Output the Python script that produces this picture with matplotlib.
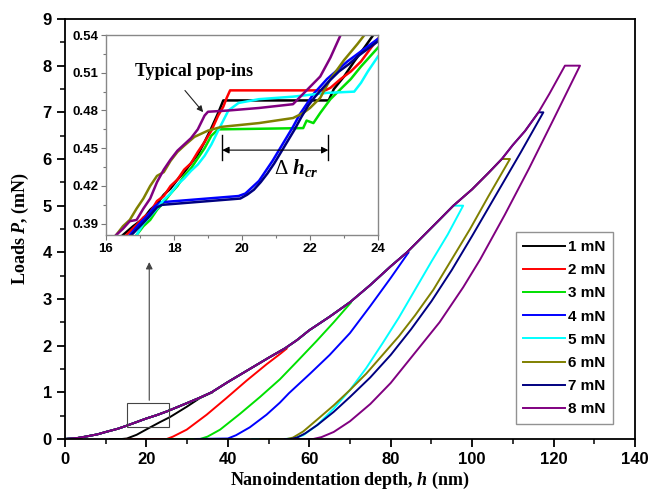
import numpy as np
import matplotlib
matplotlib.use('Agg')
from matplotlib import pyplot as plt
from matplotlib.patches import Rectangle
from matplotlib.ticker import MultipleLocator

plt.rcParams['font.family'] = 'Liberation Sans'
plt.rcParams['font.weight'] = 'bold'
plt.rcParams['mathtext.fontset'] = 'custom'
plt.rcParams['mathtext.it'] = 'Liberation Serif:italic:bold'
plt.rcParams['mathtext.rm'] = 'Liberation Serif:bold'
plt.rcParams['mathtext.sf'] = 'Liberation Serif:italic'

labels = ['1 mN', '2 mN', '3 mN', '4 mN', '5 mN', '6 mN', '7 mN', '8 mN']
colors = ['#000000', '#ff0000', '#00e000', '#0000ff', '#00ffff', '#808000', '#000080', '#800080']
peak_p = [1.0, 1.94, 2.93, 4.0, 5.0, 6.0, 7.0, 8.0]

# common loading branch
load_h = [0, 3, 5, 8, 10, 13, 15, 17.5, 20, 22.5, 25, 30, 33, 36, 40, 45, 50, 54, 57, 60,
          65, 70, 75, 80, 84, 88, 92, 95.4, 100, 104, 107.3, 110, 113, 116.3, 119, 122.8]
load_p = [0, 0.02, 0.05, 0.1, 0.15, 0.22, 0.28, 0.36, 0.44, 0.51, 0.59, 0.77, 0.88, 1.0, 1.22, 1.48, 1.74, 1.94, 2.12, 2.33,
          2.62, 2.93, 3.3, 3.7, 4.0, 4.35, 4.7, 5.0, 5.35, 5.7, 6.0, 6.3, 6.6, 7.0, 7.4, 8.0]

# hold + unloading branches
unload_h1 = [36.0, 36.2, 33.2, 29.9, 25.8, 23.3, 20.1, 17.6, 15.2, 14.0, 11.0]
unload_p1 = [1.0, 1.0, 0.88, 0.69, 0.47, 0.36, 0.21, 0.09, 0.01, 0.0, 0.0]
unload_h2 = [54.0, 54.5, 52.8, 49.5, 44.6, 39.7, 34.8, 29.9, 26.5, 25.0, 15.0]
unload_p2 = [1.94, 1.94, 1.82, 1.6, 1.25, 0.88, 0.52, 0.2, 0.05, 0.0, 0.0]
unload_h3 = [70.0, 70.3, 66.0, 61.8, 57.0, 52.8, 47.9, 43.0, 38.1, 35.0, 33.2, 25.0]
unload_p3 = [2.93, 2.93, 2.5, 2.1, 1.66, 1.28, 0.9, 0.54, 0.2, 0.05, 0.0, 0.0]
unload_h4 = [84.0, 84.4, 80.0, 75.0, 70.0, 65.0, 60.2, 55.0, 52.8, 49.5, 45.4, 42.0, 40.0, 32.0]
unload_p4 = [4.0, 4.0, 3.45, 2.85, 2.27, 1.8, 1.4, 0.98, 0.78, 0.52, 0.25, 0.08, 0.01, 0.0]
unload_h5 = [95.4, 97.8, 94.0, 90.0, 86.0, 82.0, 78.0, 74.0, 70.0, 66.0, 62.0, 58.5, 56.0, 54.0, 46.0]
unload_p5 = [5.0, 5.0, 4.38, 3.8, 3.2, 2.6, 2.05, 1.52, 1.05, 0.65, 0.3, 0.08, 0.01, 0.0, 0.0]
unload_h6 = [107.3, 109.3, 104.0, 99.5, 95.0, 90.5, 86.0, 82.0, 78.0, 74.0, 70.0, 66.0, 62.0, 58.5, 56.0, 54.5, 48.0]
unload_p6 = [6.0, 6.0, 5.2, 4.5, 3.85, 3.2, 2.65, 2.2, 1.8, 1.4, 1.05, 0.72, 0.42, 0.16, 0.03, 0.0, 0.0]
unload_h7 = [116.3, 117.5, 112.0, 106.0, 100.0, 95.0, 90.0, 85.0, 80.0, 75.0, 70.0, 66.0, 62.0, 59.0, 57.0, 55.5, 54.0]
unload_p7 = [7.0, 7.0, 6.15, 5.25, 4.35, 3.62, 2.95, 2.35, 1.8, 1.32, 0.9, 0.58, 0.3, 0.12, 0.03, 0.0, 0.0]
unload_h8 = [122.8, 126.5, 120.0, 114.0, 108.0, 102.0, 97.8, 92.0, 86.0, 80.0, 75.0, 70.0, 66.0, 63.0, 61.0, 56.0]
unload_p8 = [8.0, 8.0, 6.85, 5.8, 4.8, 3.85, 3.25, 2.5, 1.85, 1.2, 0.75, 0.38, 0.15, 0.04, 0.0, 0.0]

# inset: loading branch around the pop-ins (16-24 nm)
ins_h1 = [16.5, 16.8, 17.1, 17.3, 17.5, 17.7, 17.9, 18.1, 18.3, 18.5, 18.7, 18.9, 19.1, 19.3, 19.45, 22.55, 22.7, 23.0, 23.3, 23.6, 23.86]
ins_p1 = [.381, .388, .394, .401, .406, .413, .418, .425, .431, .438, .445, .455, .466, .478, .488, .488, .497, .507, .519, .530, .540]
ins_h2 = [16.6, 16.9, 17.1, 17.3, 17.5, 17.7, 17.9, 18.1, 18.3, 18.5, 18.7, 18.9, 19.1, 19.3, 19.45, 19.55, 19.65, 22.45, 22.6, 22.9, 23.2, 23.5, 23.8, 24.0]
ins_p2 = [.381, .389, .395, .399, .408, .412, .420, .425, .433, .438, .447, .455, .464, .476, .483, .490, .496, .496, .498, .505, .511, .519, .530, .537]
ins_h3 = [16.9, 17.1, 17.3, 17.5, 17.7, 17.9, 18.1, 18.3, 18.5, 18.7, 18.9, 19.1, 19.3, 21.8, 21.9, 22.1, 22.3, 22.6, 22.9, 23.2, 23.5, 24.0]
ins_p3 = [.381, .388, .393, .401, .407, .414, .420, .428, .434, .442, .450, .460, .465, .466, .472, .470, .478, .489, .497, .505, .515, .530]
ins_h4 = [16.7, 16.95, 17.2, 17.45, 17.6, 19.9, 20.1, 20.3, 20.5, 20.7, 20.9, 21.1, 21.3, 21.5, 21.7, 21.9, 22.1, 22.3, 22.5, 22.8, 23.1, 23.4, 23.7, 24.0]
ins_p4 = [.381, .389, .396, .404, .407, .412, .414, .419, .424, .432, .440, .449, .458, .467, .477, .485, .493, .499, .505, .512, .519, .525, .531, .537]
ins_h5 = [16.9, 17.1, 17.3, 17.5, 17.7, 17.9, 18.1, 18.3, 18.5, 18.7, 18.9, 19.1, 19.3, 19.45, 19.6, 19.9, 20.5, 21.5, 22.5, 23.3, 23.5, 23.7, 24.0]
ins_p5 = [.381, .390, .396, .402, .409, .414, .421, .426, .432, .437, .444, .453, .464, .472, .480, .486, .489, .491, .494, .495, .502, .511, .523]
ins_h6 = [16.3, 16.5, 16.7, 16.9, 17.1, 17.3, 17.5, 17.7, 17.9, 18.1, 18.3, 18.6, 19.0, 19.4, 20.5, 21.5, 21.8, 22.0, 22.3, 22.6, 23.0, 23.4, 23.6]
ins_p6 = [.381, .388, .393, .402, .410, .420, .428, .431, .440, .447, .452, .459, .464, .467, .470, .474, .478, .482, .490, .505, .520, .533, .540]
ins_h7 = [16.75, 17.0, 17.25, 17.5, 17.65, 19.95, 20.15, 20.35, 20.55, 20.75, 20.95, 21.15, 21.35, 21.55, 21.75, 21.95, 22.15, 22.35, 22.55, 22.85, 23.15, 23.45, 23.75, 24.0]
ins_p7 = [.381, .388, .395, .403, .405, .410, .413, .417, .423, .430, .438, .447, .456, .465, .475, .484, .491, .497, .503, .511, .517, .524, .530, .535]
ins_h8 = [16.3, 16.5, 16.7, 16.9, 17.1, 17.3, 17.5, 17.7, 17.9, 18.1, 18.3, 18.5, 18.7, 18.9, 19.0, 19.6, 20.5, 21.5, 21.9, 22.3, 22.6, 22.9]
ins_p8 = [.381, .386, .392, .393, .402, .410, .423, .433, .441, .448, .453, .458, .465, .476, .479, .480, .482, .485, .496, .507, .522, .540]

unload_h = [unload_h1, unload_h2, unload_h3, unload_h4, unload_h5, unload_h6, unload_h7, unload_h8]
unload_p = [unload_p1, unload_p2, unload_p3, unload_p4, unload_p5, unload_p6, unload_p7, unload_p8]
ins_h = [ins_h1, ins_h2, ins_h3, ins_h4, ins_h5, ins_h6, ins_h7, ins_h8]
ins_p = [ins_p1, ins_p2, ins_p3, ins_p4, ins_p5, ins_p6, ins_p7, ins_p8]


def full_curve(k):
    lh = np.array(load_h)
    lp = np.array(load_p)
    keep = lp < peak_p[k]
    h = np.concatenate([lh[keep], unload_h[k]])
    p = np.concatenate([lp[keep], unload_p[k]])
    return h, p


fig = plt.figure(figsize=(6.55, 5.04), dpi=100)
ax = fig.add_axes([0.0992, 0.129, 0.8702, 0.8333])

for k in range(8):
    h, p = full_curve(k)
    ax.plot(h, p, color=colors[k], lw=1.4, label=labels[k])

ax.set_xlim(0, 140)
ax.set_ylim(0, 9)
ax.xaxis.set_major_locator(MultipleLocator(20))
ax.xaxis.set_minor_locator(MultipleLocator(10))
ax.yaxis.set_major_locator(MultipleLocator(1))
ax.yaxis.set_minor_locator(MultipleLocator(0.5))
ax.tick_params(which='major', direction='out', length=6, width=1.3, labelsize=12)
ax.tick_params(which='minor', direction='out', length=3.5, width=1.1)
for s in ax.spines.values():
    s.set_linewidth(1.3)

ax.set_xlabel('Nanoindentation depth, $\\mathit{h}$ (nm)', family='Liberation Serif',
              fontsize=13, fontweight='bold', labelpad=2)
ax.set_ylabel('Loads $\\mathit{P}$, (mN)', family='Liberation Serif',
              fontsize=13, fontweight='bold', labelpad=8)

leg = ax.legend(loc='lower right', bbox_to_anchor=(0.961, 0.036), fontsize=11,
                frameon=True, fancybox=False, handlelength=2.7, handletextpad=0.2,
                labelspacing=0.6, borderpad=0.5, borderaxespad=0)
leg.get_frame().set_edgecolor('#777777')
leg.get_frame().set_linewidth(1.0)

# box marking the zoomed region and arrow to the inset
ax.add_patch(Rectangle((15.2, 0.26), 10.3, 0.51, fill=False, ec='#444444', lw=0.8, zorder=5))
ax.annotate('', xy=(20.7, 3.85), xytext=(20.7, 0.77),
            arrowprops=dict(arrowstyle='-|>', color='#444444', lw=0.8, mutation_scale=10))

# inset
ins = fig.add_axes([0.1618, 0.5337, 0.4153, 0.3968])
for k in range(8):
    ins.plot(ins_h[k], ins_p[k], color=colors[k], lw=1.8)
ins.set_xlim(16, 24)
ins.set_ylim(0.381, 0.54)
ins.xaxis.set_major_locator(MultipleLocator(2))
ins.xaxis.set_minor_locator(MultipleLocator(1))
ins.yaxis.set_minor_locator(MultipleLocator(0.015))
ins.set_yticks([0.39, 0.42, 0.45, 0.48, 0.51, 0.54])
ins.set_yticklabels(['0.39', '0.42', '0.45', '0.48', '0.51', '0.54'])
ins.tick_params(which='major', direction='out', length=3.5, width=0.8, labelsize=9.5,
                color='#777777', pad=2)
ins.tick_params(which='minor', direction='out', length=2, width=0.8, color='#777777')
for s in ins.spines.values():
    s.set_color('#888888')
    s.set_linewidth(1.0)

ins.text(18.6, 0.511, 'Typical pop-ins', family='Liberation Serif', fontsize=13,
         fontweight='bold', ha='center', va='center')
ins.annotate('', xy=(18.91, 0.477), xytext=(18.27, 0.4976),
             arrowprops=dict(arrowstyle='-|>', color='#222222', lw=0.8, mutation_scale=9))

ins.plot([19.42, 19.42], [0.4405, 0.4605], color='black', lw=1.0)
ins.plot([22.54, 22.54], [0.4405, 0.4605], color='black', lw=1.0)
ins.annotate('', xy=(19.42, 0.4485), xytext=(22.54, 0.4485),
             arrowprops=dict(arrowstyle='<|-|>', color='black', lw=0.8, mutation_scale=10,
                             shrinkA=0, shrinkB=0))
ins.text(21.6, 0.4345, '\u0394 $\\mathsf{h}_{\\mathsf{cr}}$', family='Liberation Serif',
         fontsize=15, fontweight='normal', ha='center', va='center')

fig.savefig('out.png', dpi=100)
